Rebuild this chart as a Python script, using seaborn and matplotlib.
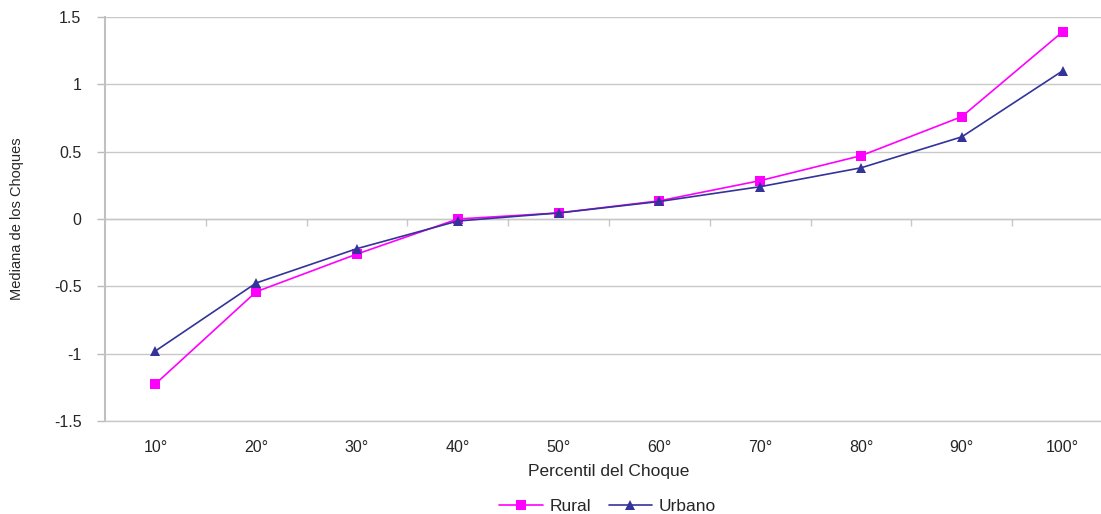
import numpy as np
import pandas as pd
import matplotlib
matplotlib.use('Agg')
import matplotlib.pyplot as plt
import seaborn as sns

percentiles = ['10°', '20°', '30°', '40°', '50°', '60°', '70°', '80°', '90°', '100°']
rural = [-1.225, -0.54, -0.26, 0.0, 0.045, 0.135, 0.285, 0.47, 0.76, 1.39]
urbano = [-0.98, -0.475, -0.22, -0.015, 0.045, 0.13, 0.24, 0.38, 0.61, 1.10]
yticks = [-1.5, -1, -0.5, 0, 0.5, 1, 1.5]
ytick_labels = ['-1.5', '-1', '-0.5', '0', '0.5', '1', '1.5']

pos = np.arange(len(percentiles))
df = pd.DataFrame({
    'pos': np.concatenate([pos, pos]),
    'valor': rural + urbano,
    'serie': ['Rural'] * len(rural) + ['Urbano'] * len(urbano),
})

sns.set_style('white')
plt.rcParams['font.family'] = ['Liberation Sans', 'DejaVu Sans']

fig = plt.figure(figsize=(11.01, 5.14), dpi=100)
ax = fig.add_axes([105 / 1101, 93 / 514, 1008 / 1101, 404 / 514])

pal = {'Rural': '#FF00FF', 'Urbano': '#333399'}
sns.lineplot(data=df, x='pos', y='valor', hue='serie', style='serie',
             palette=pal, markers={'Rural': 's', 'Urbano': '^'},
             dashes=False, markersize=7, markeredgewidth=0, linewidth=1.2,
             ax=ax, legend=True)

ax.set_xlim(-0.5, len(percentiles) - 0.5)
ax.set_ylim(-1.5, 1.5)
ax.set_yticks(yticks)
ax.set_yticklabels(ytick_labels, fontsize=11.5)
ax.yaxis.grid(True, color='#C8C8C8', linewidth=1)
ax.set_axisbelow(True)

ax.set_xticks(pos)
ax.set_xticklabels(percentiles, fontsize=11.5)
ax.tick_params(axis='x', length=0, pad=14)
ax.tick_params(axis='y', which='major', left=True, length=6, width=1,
               color='#BBBBBB', direction='out', pad=11)

for s in ['top', 'right']:
    ax.spines[s].set_visible(False)
ax.spines['left'].set_color('#C0C0C0')
ax.spines['left'].set_linewidth(1.5)
ax.spines['bottom'].set_color('#C8C8C8')
ax.spines['bottom'].set_linewidth(1)

# category axis crossing at y = 0, with ticks between categories
sec = ax.secondary_xaxis(0.5)
sec.set_xticks(pos[:-1] + 0.5)
sec.set_xticklabels([])
sec.tick_params(axis='x', length=5, width=1, color='#C8C8C8', direction='in')
sec.spines['bottom'].set_visible(False)

ax.set_xlabel('Percentil del Choque', fontsize=12.5, labelpad=6)
ax.set_ylabel('Mediana de los Choques', fontsize=10.5)
ax.yaxis.set_label_coords(-0.08, 0.5)

handles, labels = ax.get_legend_handles_labels()
ax.legend_.remove()
fig.legend(handles, labels, loc='lower center', bbox_to_anchor=(0.552, -0.03),
           ncol=2, frameon=False, fontsize=12.5, handlelength=2.5,
           columnspacing=1.0, handletextpad=0.4)

fig.savefig('out.png', dpi=100)
